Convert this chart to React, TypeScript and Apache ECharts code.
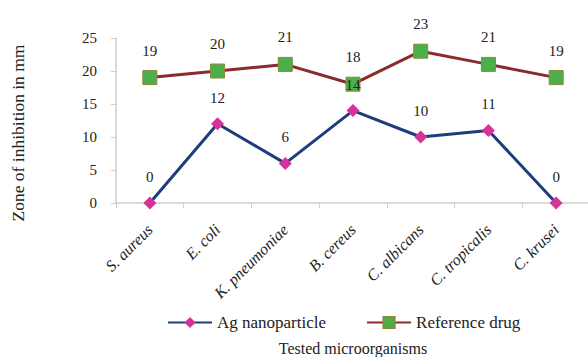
import React, { useEffect, useRef } from "react";
import * as echarts from "echarts";

const categories = ["S. aureus", "E. coli", "K. pneumoniae", "B. cereus", "C. albicans", "C. tropicalis", "C. krusei"];
const agValues = [0, 12, 6, 14, 10, 11, 0];
const refValues = [19, 20, 21, 18, 23, 21, 19];
const yTicks = { min: 0, max: 25, interval: 5 };

const FONT = "Times New Roman, Liberation Serif, serif";

export default function App() {
  const ref = useRef<HTMLDivElement>(null);
  useEffect(() => {
    if (!ref.current) return;
    const chart = echarts.init(ref.current, undefined, { renderer: "svg" });
    chart.setOption({
      animation: false,
      backgroundColor: "#ffffff",
      textStyle: { fontFamily: FONT },
      grid: { left: 116, right: -2, top: 38, bottom: 154, containLabel: false, outerBoundsMode: "none" },
      legend: {
        left: 162,
        top: 309,
        itemWidth: 44,
        itemHeight: 14,
        itemGap: 40,
        textStyle: { fontFamily: FONT, fontSize: 17, color: "#222" },
        data: ["Ag nanoparticle", "Reference drug"],
      },
      graphic: [
        {
          type: "text",
          x: 18,
          y: 133,
          rotation: Math.PI / 2,
          style: {
            text: "Zone of inhibition in mm",
            font: `17.5px ${FONT}`,
            fill: "#222",
            align: "center",
            verticalAlign: "middle",
          },
        },
      ],
      xAxis: {
        type: "category",
        data: categories,
        boundaryGap: true,
        name: "Tested microorganisms",
        nameLocation: "middle",
        nameGap: 137,
        nameTextStyle: { fontFamily: FONT, fontSize: 16, color: "#222" },
        axisLine: { lineStyle: { color: "#cfcfcf", width: 1.5 } },
        axisTick: { show: true, length: 5, lineStyle: { color: "#cfcfcf" } },
        axisLabel: {
          rotate: 45,
          margin: 24,
          fontFamily: FONT,
          fontStyle: "italic",
          fontSize: 16,
          color: "#222",
        },
        splitLine: { show: false },
      },
      yAxis: {
        type: "value",
        min: yTicks.min,
        max: yTicks.max,
        interval: yTicks.interval,
        axisLine: { show: true, lineStyle: { color: "#cfcfcf", width: 1.5 } },
        axisTick: { show: true, length: 5, lineStyle: { color: "#cfcfcf" } },
        axisLabel: { fontFamily: FONT, fontSize: 15, color: "#222", margin: 19 },
        splitLine: { show: false },
      },
      series: [
        {
          name: "Ag nanoparticle",
          type: "line",
          data: agValues,
          symbol: "diamond",
          symbolSize: 13,
          lineStyle: { color: "#1f3c7c", width: 3 },
          itemStyle: { color: "#d4349a", borderWidth: 0 },
          label: {
            show: true,
            position: "top",
            distance: 12,
            fontFamily: FONT,
            fontSize: 15,
            color: "#222",
          },
          z: 3,
        },
        {
          name: "Reference drug",
          type: "line",
          data: refValues,
          symbol: "rect",
          symbolSize: 14,
          lineStyle: { color: "#8b2c2c", width: 3 },
          itemStyle: { color: "#4caf4c", borderColor: "#8a8a3c", borderWidth: 1 },
          label: {
            show: true,
            position: "top",
            distance: 12,
            fontFamily: FONT,
            fontSize: 15,
            color: "#222",
          },
          z: 2,
        },
      ],
    });
    return () => chart.dispose();
  }, []);
  return <div ref={ref} style={{ width: 588, height: 357, position: "absolute", left: 0, top: 0 }} />;
}
